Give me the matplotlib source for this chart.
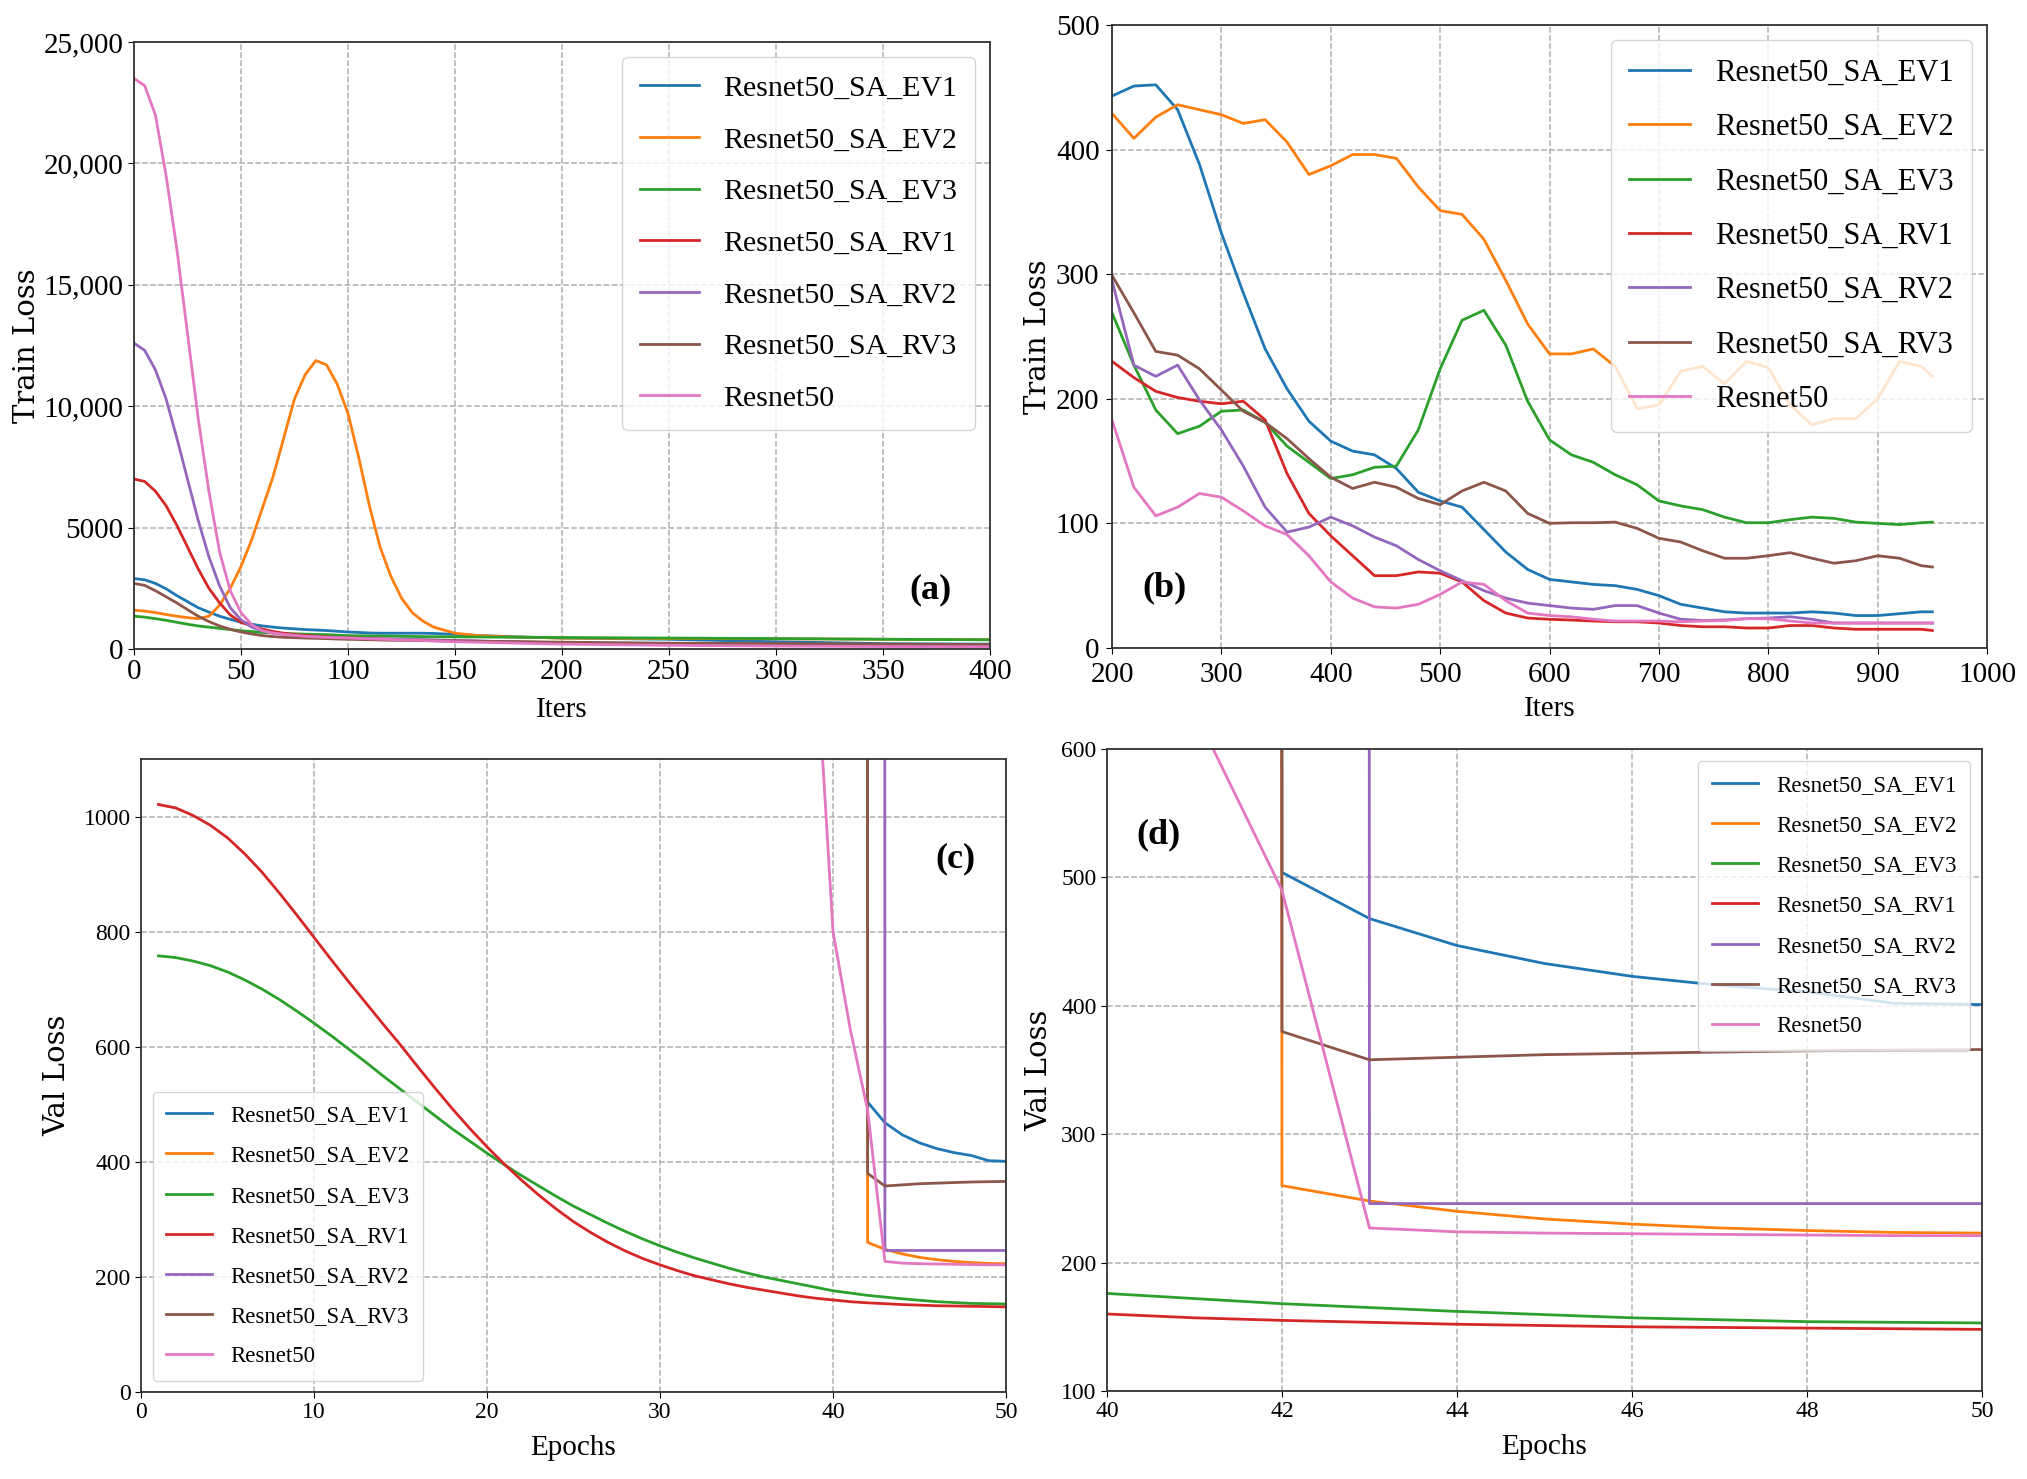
import numpy as np
import matplotlib.pyplot as plt

labels = ['Resnet50_SA_EV1', 'Resnet50_SA_EV2', 'Resnet50_SA_EV3',
          'Resnet50_SA_RV1', 'Resnet50_SA_RV2', 'Resnet50_SA_RV3', 'Resnet50']
colors = ['#1f77b4', '#ff7f0e', '#2ca02c', '#d62728', '#9467bd', '#8c564b', '#e377c2']

# (a) train loss, first 400 iters
iters_a = [0, 5, 10, 15, 20, 25, 30, 35, 40, 45, 50, 55, 60, 65, 70, 75, 80, 85, 90, 95,
           100, 105, 110, 115, 120, 125, 130, 135, 140, 150, 160, 175, 200, 250, 300, 350, 400]
a_ev1 = [2900, 2850, 2700, 2480, 2200, 1950, 1700, 1520, 1350, 1220, 1100, 1020, 950, 900, 860, 830, 800, 780, 760, 730,
         700, 680, 660, 650, 650, 650, 650, 650, 640, 600, 560, 510, 450, 400, 300, 220, 200]
a_ev2 = [1600, 1560, 1500, 1420, 1350, 1290, 1250, 1350, 1800, 2500, 3400, 4500, 5800, 7100, 8700, 10300, 11300, 11880, 11700, 10900,
         9700, 7900, 5900, 4200, 3000, 2100, 1500, 1150, 900, 650, 560, 500, 450, 430, 420, 400, 380]
a_ev3 = [1350, 1310, 1250, 1180, 1100, 1020, 950, 900, 850, 800, 750, 720, 680, 660, 640, 625, 610, 600, 590, 570,
         550, 545, 540, 535, 530, 520, 515, 510, 505, 500, 495, 485, 470, 450, 430, 400, 380]
a_rv1 = [7000, 6900, 6500, 5900, 5100, 4200, 3300, 2500, 1900, 1400, 1100, 950, 820, 720, 650, 600, 560, 530, 500, 480,
         460, 445, 430, 415, 400, 390, 380, 370, 360, 340, 320, 290, 250, 200, 170, 150, 140]
a_rv2 = [12600, 12300, 11500, 10300, 8700, 7000, 5300, 3800, 2600, 1700, 1200, 900, 750, 660, 600, 560, 520, 500, 480, 465,
         450, 440, 430, 420, 410, 400, 390, 380, 370, 350, 330, 300, 260, 210, 180, 160, 150]
a_rv3 = [2700, 2620, 2400, 2150, 1900, 1620, 1350, 1130, 950, 810, 700, 620, 550, 510, 480, 465, 450, 440, 425, 410,
         400, 390, 380, 370, 360, 355, 350, 345, 340, 330, 320, 305, 280, 240, 220, 200, 180]
a_res = [23500, 23200, 22000, 19500, 16500, 13000, 9500, 6500, 4000, 2400, 1500, 1000, 750, 650, 600, 560, 520, 500, 480, 465,
         450, 435, 420, 405, 390, 375, 360, 345, 330, 300, 280, 250, 200, 150, 120, 100, 90]

# (b) train loss, iters 200-950
iters_b = list(range(200, 941, 20)) + [950]
b_ev1 = [443, 451, 452, 432, 388, 333, 285, 240, 208, 182, 166, 158, 155, 144, 125, 118, 113, 95, 77, 63,
         55, 53, 51, 50, 47, 42, 35, 32, 29, 28, 28, 28, 29, 28, 26, 26, 27.5, 29, 29]
b_ev2 = [429, 409, 426, 436, 432, 428, 421, 424, 406, 380, 387, 396, 396, 393, 370, 351, 348, 328, 295, 260,
         236, 236, 240, 226, 192, 195, 222, 226, 212, 230, 225, 195, 179, 184, 184, 200, 230, 226, 218]
b_ev3 = [269, 227, 191, 172, 178, 190, 191, 181, 162, 149, 136, 139, 145, 146, 175, 224, 263, 271, 243, 198,
         167, 155, 149, 139, 131, 118, 114, 111, 105, 100.5, 100.5, 103, 105, 104, 101, 100, 99, 100.5, 101]
b_rv1 = [230, 217, 206, 201, 198, 196, 198, 183, 140, 108, 90, 74, 58, 58, 61, 60, 53, 38, 28, 24,
         23, 22.4, 21.6, 21, 21, 20, 18, 17, 17, 16, 16, 18, 18, 16, 15, 15, 15, 15, 14]
b_rv2 = [295, 227, 218, 227, 199, 175, 146, 113, 93, 97, 105, 98, 89, 82, 71, 62, 54, 46, 40, 36,
         34, 32, 31, 34, 34, 28, 23, 22, 22.5, 23.5, 24, 25, 23, 20, 20, 20, 20, 20, 20]
b_rv3 = [299, 269, 238, 235, 224, 207, 190, 181, 168, 152, 137, 128, 133, 129, 120, 115, 126, 133, 126, 108,
         100, 100.5, 100.5, 101, 96, 88, 85, 78, 72, 72, 74, 76.5, 72, 68, 70, 74, 72, 66, 65]
b_res = [183, 129, 106, 113, 124, 121, 110, 98, 91, 74, 53, 40, 33, 32, 35, 43, 53, 51, 38, 28,
         26, 25, 23, 21.6, 21.6, 21.6, 21, 21.6, 22, 23.5, 23.5, 21.6, 20, 20, 20, 20, 20, 20, 20]

# (c)/(d) validation loss per epoch
epochs = list(range(1, 51))
v_ev3 = [758, 755, 749, 741, 730, 716, 700, 682, 662, 641, 619, 596, 573, 549, 526, 503, 480, 457, 436, 415,
         395, 376, 358, 340, 323, 308, 293, 279, 266, 254, 243, 233, 224, 215, 207, 200, 194, 188, 182, 176,
         172, 168, 165, 162, 159.5, 157, 155.5, 154, 153.5, 153]
v_rv1 = [1021, 1015, 1002, 985, 963, 935, 903, 867, 829, 790, 751, 713, 676, 639, 603, 565, 528, 492, 458, 426,
         396, 368, 342, 318, 296, 277, 260, 245, 232, 221, 211, 202, 195, 188, 182, 177, 172, 167, 163, 160,
         157, 155, 153.5, 152, 151, 150, 149.5, 149, 148.5, 148]
ep_late = list(range(41, 51))
v_ev1 = [150000, 504, 468, 447, 433, 423, 416, 411, 402, 401]
v_ev2 = [150000, 260, 248, 240, 234, 230, 227, 225, 223.5, 223]
v_rv3 = [150000, 380, 358, 360, 362, 363, 364, 365, 365.5, 366]
ep_rv2 = list(range(42, 51))
v_rv2 = [150000, 246, 246, 246, 246, 246, 246, 246, 246]
ep_res = list(range(39, 51))
v_res = [1300, 800, 630, 490, 227, 224, 223, 222.5, 222, 221.5, 221, 221]

plt.rcParams['font.family'] = ['Liberation Serif']
plt.rcParams['legend.labelspacing'] = 0.83
plt.rcParams['legend.borderpad'] = 0.6
fig = plt.figure(figsize=(20.27, 14.79), dpi=100)

ax_a = fig.add_axes([0.0661, 0.5612, 0.4223, 0.4104])
ax_b = fig.add_axes([0.5486, 0.5619, 0.4317, 0.4212])
ax_c = fig.add_axes([0.0696, 0.0588, 0.4267, 0.4280])
ax_d = fig.add_axes([0.5461, 0.0595, 0.4317, 0.4340])

series_a = [a_ev1, a_ev2, a_ev3, a_rv1, a_rv2, a_rv3, a_res]
for ys, c, lab in zip(series_a, colors, labels):
    ax_a.plot(iters_a, ys, color=c, lw=2, label=lab)

series_b = [b_ev1, b_ev2, b_ev3, b_rv1, b_rv2, b_rv3, b_res]
for ys, c, lab in zip(series_b, colors, labels):
    ax_b.plot(iters_b, ys, color=c, lw=2, label=lab)

for ax in (ax_c, ax_d):
    ax.plot(ep_late, v_ev1, color=colors[0], lw=2, label=labels[0])
    ax.plot(ep_late, v_ev2, color=colors[1], lw=2, label=labels[1])
    ax.plot(epochs, v_ev3, color=colors[2], lw=2, label=labels[2])
    ax.plot(epochs, v_rv1, color=colors[3], lw=2, label=labels[3])
    ax.plot(ep_rv2, v_rv2, color=colors[4], lw=2, label=labels[4])
    ax.plot(ep_late, v_rv3, color=colors[5], lw=2, label=labels[5])
    ax.plot(ep_res, v_res, color=colors[6], lw=2, label=labels[6])

# axes limits and ticks
ax_a.set_xlim(0, 400)
ax_a.set_ylim(0, 25000)
ax_a.set_xticks(range(0, 401, 50))
ax_a.set_yticks([0, 5000, 10000, 15000, 20000, 25000])
ax_a.set_yticklabels(['0', '5000', '10,000', '15,000', '20,000', '25,000'])

ax_b.set_xlim(200, 1000)
ax_b.set_ylim(0, 500)
ax_b.set_xticks(range(200, 1001, 100))
ax_b.set_yticks(range(0, 501, 100))

ax_c.set_xlim(0, 50)
ax_c.set_ylim(0, 1100)
ax_c.set_xticks(range(0, 51, 10))
ax_c.set_yticks(range(0, 1001, 200))

ax_d.set_xlim(40, 50)
ax_d.set_ylim(100, 600)
ax_d.set_xticks(range(40, 51, 2))
ax_d.set_yticks(range(100, 601, 100))

for ax, tsize in ((ax_a, 21), (ax_b, 21), (ax_c, 17), (ax_d, 17)):
    ax.grid(True, ls='--', color='#b0b0b0', lw=1.1)
    ax.set_axisbelow(True)
    ax.tick_params(labelsize=tsize, length=4)
    for sp in ax.spines.values():
        sp.set_color('#333333')
        sp.set_linewidth(1.3)
ax_b.tick_params(axis='x', pad=6)
ax_b.tick_params(axis='y', pad=5)

ylab_font = dict(family='DejaVu Serif', size=21)
ax_a.set_ylabel('Train Loss', fontdict=ylab_font, labelpad=2)
ax_b.set_ylabel('Train Loss', fontdict=ylab_font, labelpad=3)
ax_c.set_ylabel('Val Loss', fontdict=ylab_font, labelpad=9)
ax_d.set_ylabel('Val Loss', fontdict=ylab_font, labelpad=6)
ax_a.set_xlabel('Iters', fontsize=21, labelpad=8)
ax_b.set_xlabel('Iters', fontsize=21, labelpad=6)
ax_c.set_xlabel('Epochs', fontsize=21, labelpad=8)
ax_d.set_xlabel('Epochs', fontsize=21, labelpad=8)

ax_a.legend(loc='upper right', fontsize=21.5)
ax_b.legend(loc='upper right', fontsize=22)
ax_c.legend(loc='lower left', fontsize=16.5)
ax_d.legend(loc='upper right', fontsize=16.6)

ax_a.text(0.93, 0.097, '(a)', transform=ax_a.transAxes, fontsize=26, fontweight='bold', ha='center', va='center')
ax_b.text(0.06, 0.096, '(b)', transform=ax_b.transAxes, fontsize=26, fontweight='bold', ha='center', va='center')
ax_c.text(0.942, 0.842, '(c)', transform=ax_c.transAxes, fontsize=26, fontweight='bold', ha='center', va='center')
ax_d.text(0.059, 0.866, '(d)', transform=ax_d.transAxes, fontsize=26, fontweight='bold', ha='center', va='center')

fig.savefig('out.png', dpi=100)
